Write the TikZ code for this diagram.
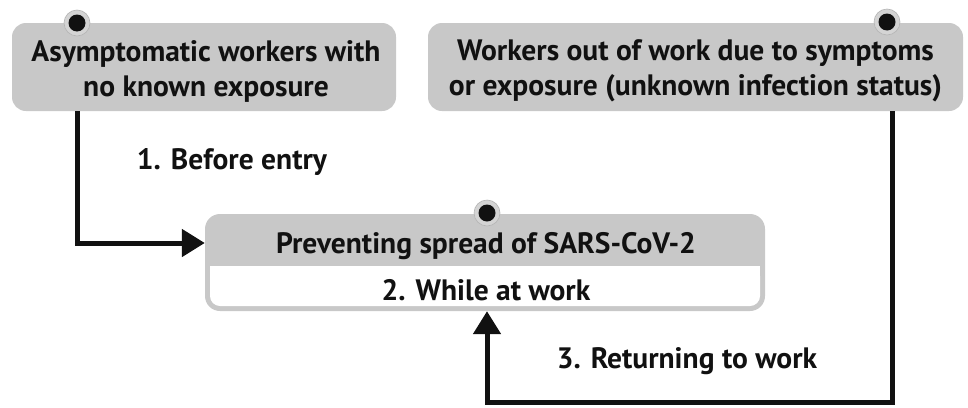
\documentclass[tikz,border=0pt]{standalone}
\usepackage{fontspec}
\setmainfont{PT Sans}
\usetikzlibrary{arrows.meta,calc}
\definecolor{boxgray}{HTML}{C8C8C8}
\definecolor{halogray}{HTML}{D4D4D4}
\definecolor{haloedge}{HTML}{B4B4B4}
\definecolor{ink}{HTML}{111111}
\begin{document}
\begin{tikzpicture}[x=1pt,y=-1pt,
  graybox/.style={rectangle, rounded corners=14pt, fill=boxgray, draw=none, inner sep=0pt},
  lbl/.style={font=\fontsize{29.5}{35}\selectfont\bfseries, text=ink, inner sep=0pt, align=center},
  conn/.style={draw=ink, line width=5pt},
  arr/.style={conn, -{Triangle[length=23pt,width=27pt]}},
  halo/.style={circle, fill=halogray, draw=haloedge, line width=0.6pt, minimum size=26pt, inner sep=0pt},
  dotc/.style={circle, fill=ink, minimum size=17pt, inner sep=0pt}
]
\useasboundingbox (0,0) rectangle (968,407);
\fill[white] (0,0) rectangle (968,407);

% Box A
\node[graybox, minimum width=384pt, minimum height=88pt] (A) at (204,67) {};
\node[lbl] (At) at (206,71) {Asymptomatic workers with\\no known exposure};
% Box B
\node[graybox, minimum width=535pt, minimum height=88pt] (B) at (695.5,67) {};
\node[lbl] (Bt) at (695.5,71) {Workers out of work due to symptoms\\or exposure (unknown infection status)};

% Box C
\node[graybox, rounded corners=15pt, minimum width=560pt, minimum height=97pt] (C) at (485,262.5) {};
\fill[white, rounded corners=10pt] (210,266) -- (760,266) -- (760,306) -- (210,306) -- cycle;
\fill[white] (210,266) rectangle (760,280);
\node[lbl] (Ct) at (486,246) {Preventing spread of SARS-CoV-2};
\node[lbl] (Cb) at (486,290) {2. While at work};

% dots
\node[halo] (hA) at (77,23) {};
\node[dotc] (dA) at (77,23) {};
\node[halo] (hB) at (887,22) {};
\node[dotc] (dB) at (887,22) {};
\node[halo] (hC) at (487,213) {};
\node[dotc] (dC) at (487,213) {};

% connectors
\coordinate (a1) at (77,243);
\draw[arr] (A.south -| a1) -- (a1) -- (C.west |- a1);
\coordinate (b1) at (892,402.5);
\coordinate (b2) at (487,402.5);
\draw[arr] (B.south -| b1) -- (b1) -- (b2) -- (C.south -| b2);

% labels
\node[lbl] (L1) at (232,162) {1. Before entry};
\node[lbl] (L3) at (687,361) {3. Returning to work};
\end{tikzpicture}
\end{document}
